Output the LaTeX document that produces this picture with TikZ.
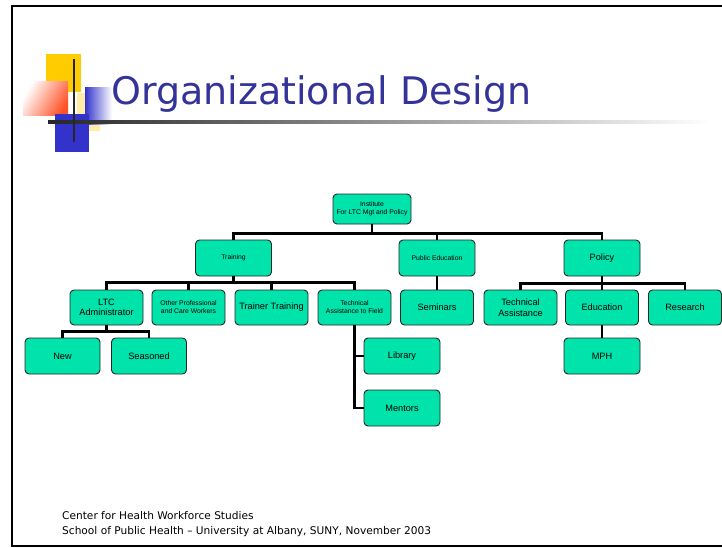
\documentclass[tikz,border=0pt]{standalone}
\usepackage{fontspec}
\setmainfont{Liberation Sans}
\newfontfamily\slidefont[Ligatures=TeX]{DejaVu Sans}
\usetikzlibrary{positioning}
\definecolor{unitColor}{HTML}{00E3AA}
\definecolor{titleColor}{HTML}{333399}
\definecolor{logoYellow}{HTML}{FFCC00}
\definecolor{logoBlue}{HTML}{3333CC}
\definecolor{logoRed}{HTML}{FF3300}

\begin{document}
\begin{tikzpicture}[x=1pt, y=-1pt, every node/.style={font=\fontsize{9.2}{10.5}\selectfont}]
	\tikzset{
		unit/.style={draw=black!85, fill=unitColor, rounded corners=4pt, line width=0.9pt,
			minimum width=76pt, minimum height=36pt, align=center, inner sep=1pt},
		unitsm/.style={unit, minimum width=73pt, minimum height=35pt},
		tiny/.style={font=\fontsize{6.8}{8}\selectfont},
		link/.style={line width=2.2pt}
	}
	\useasboundingbox (0,0) rectangle (722,548);
	% slide frame
	\draw[line width=2pt] (722,6) -- (12,6) -- (12,546) -- (722,546);
	% corner logo
	\fill[logoYellow] (46,54) rectangle (81,92);
	\fill[logoYellow!35] (77,93) rectangle (100,131);
	\shade[left color=white, right color=logoRed!85, shading angle=60] (23,82) rectangle (68,116);
	\shade[left color=logoBlue, right color=white] (85,88) rectangle (112,125);
	\fill[logoBlue] (55,114) rectangle (89,152);
	\shade[left color=black!85, right color=white] (48,120.5) rectangle (710,123.5);
	\draw[line width=2.5pt, black!85] (74,59) -- (74,142);
	\node[anchor=base west, inner sep=0pt, text=titleColor, font=\slidefont\fontsize{38}{40}\selectfont]
		(title) at (111,105) {Organizational Design};
	% chart
	\node[unit, minimum width=78pt, minimum height=30pt, tiny] (inst) at (372,209) {Institute\\For LTC Mgt and Policy};
	\node[unit, tiny] (train) at (233.5,258) {Training};
	\node[unit, tiny] (pubed) at (437,258) {Public Education};
	\node[unit] (policy) at (602,258) {Policy};
	\node[unitsm] (ltc) at (106.5,307.5) {LTC\\Administrator};
	\node[unitsm, tiny] (other) at (188.5,307.5) {Other Professional\\and Care Workers};
	\node[unitsm] (trtr) at (271.5,307.5) {Trainer Training};
	\node[unitsm, tiny] (tatf) at (354.5,307.5) {Technical\\Assistance to Field};
	\node[unitsm] (sem) at (437,307.5) {Seminars};
	\node[unitsm] (tech) at (520.5,307.5) {Technical\\Assistance};
	\node[unitsm] (educ) at (602,307.5) {Education};
	\node[unitsm] (res) at (685,307.5) {Research};
	\node[unit, minimum width=75pt] (new) at (62.5,356) {New};
	\node[unit, minimum width=75pt] (seas) at (149,356) {Seasoned};
	\node[unit] (lib) at (402,356) {Library};
	\node[unit] (ment) at (402,408) {Mentors};
	\node[unit] (mph) at (602,356) {MPH};
	% connectors
	\draw[link] (inst.south) -- ++(0,9) coordinate (b1);
	\draw[link] (train.north) |- (b1) -| (policy.north);
	\draw[link] (pubed.north) -- (pubed.north |- b1);
	\draw[link] (train.south) -- ++(0,6) coordinate (b2);
	\draw[link] (ltc.north) |- (b2) -| (tatf.north);
	\draw[link] (other.north) -- (other.north |- b2);
	\draw[link] (trtr.north) -- (trtr.north |- b2);
	\draw[link] (pubed.south) -- (sem.north);
	\draw[link] (policy.south) -- ++(0,7) coordinate (b3);
	\draw[link] (tech.north) |- (b3) -| (res.north);
	\draw[link] (b3) -- (educ.north);
	\draw[link] (educ.south) -- (mph.north);
	\draw[link] (ltc.south) -- ++(0,6) coordinate (b4);
	\draw[link] (new.north) |- (b4) -| (seas.north);
	\draw[link] (tatf.south) |- (ment.west);
	\draw[link] (tatf.south |- lib.west) -- (lib.west);
	% footer
	\node[anchor=base west, inner sep=0pt, font=\slidefont\fontsize{10.6}{12}\selectfont] (foot1) at (62,519) {Center for Health Workforce Studies};
	\node[anchor=base west, inner sep=0pt, font=\slidefont\fontsize{10.6}{12}\selectfont] (foot2) at (62,534) {School of Public Health – University at Albany, SUNY, November 2003};
\end{tikzpicture}
\end{document}
